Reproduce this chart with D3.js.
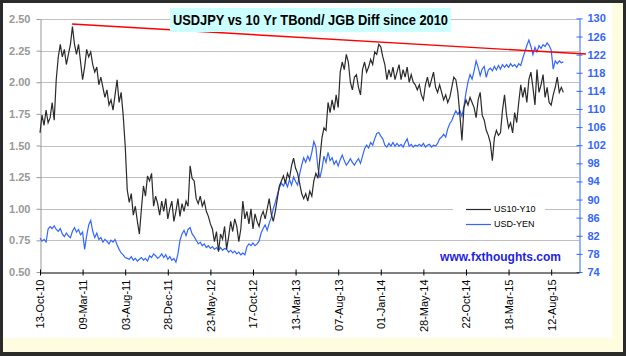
<!DOCTYPE html>
<html><head><meta charset="utf-8">
<script src="https://cdn.jsdelivr.net/npm/d3@7"></script>
<style>
html,body{margin:0;padding:0;background:#2b2b2b;}
svg{display:block;font-family:"Liberation Sans",Arial,sans-serif;}
</style></head>
<body><svg id="chart" width="626" height="356"></svg>
<script>
// ---------------- DATA ----------------
const title = "USDJPY vs 10 Yr TBond/ JGB Diff since 2010";
const startDate = "2010-10-13";
const stepDays = 7; // weekly observations
const seriesNames = ["US10-Y10", "USD-YEN"];
// US10-Y10 spread (left axis, %)
const spreadValues = [
1.60,1.74,1.66,1.78,1.68,1.72,1.84,1.70,2.02,2.20,
2.30,2.20,2.26,2.14,2.22,2.30,2.44,2.30,2.22,2.30,
2.16,2.02,2.12,2.26,2.20,2.24,2.14,2.08,2.12,1.98,
2.04,1.96,1.88,1.94,1.82,1.86,1.78,1.90,2.02,1.84,
1.92,1.74,1.50,1.15,1.05,1.12,0.95,1.02,0.90,0.80,
1.00,1.18,1.10,1.26,1.22,1.28,1.02,1.10,1.04,0.95,
1.06,0.98,1.08,0.92,1.00,1.06,0.90,0.98,1.08,0.94,
1.04,0.98,1.06,1.02,1.34,1.24,1.22,1.08,1.04,1.10,
1.02,1.06,0.98,0.94,0.88,0.84,0.74,0.82,0.66,0.80,
0.76,0.86,0.68,0.78,0.90,0.82,0.92,0.86,0.74,0.84,
1.06,0.92,0.98,0.88,1.00,0.84,0.96,0.90,0.86,0.94,
0.98,0.92,1.00,1.08,0.96,0.90,0.98,1.08,1.18,1.22,
1.26,1.20,1.28,1.24,1.34,1.40,1.32,1.28,1.20,1.12,
1.08,1.12,1.06,1.14,1.10,1.22,1.28,1.24,1.40,1.56,
1.64,1.62,1.84,1.76,1.86,1.78,1.90,1.80,2.08,2.16,
2.10,2.22,2.16,2.00,1.94,2.04,2.06,1.96,1.90,2.10,
2.16,2.08,2.12,2.18,2.14,2.24,2.22,2.30,2.28,2.20,
2.14,2.02,2.10,2.04,2.12,2.02,2.08,2.14,2.02,2.10,
2.04,2.12,2.00,2.06,2.00,1.98,1.94,1.98,1.90,1.86,
1.98,2.04,1.96,2.02,2.08,1.96,1.92,1.98,1.92,1.86,
1.90,1.84,1.88,1.96,2.04,2.02,1.92,1.74,1.54,1.80,
1.86,1.82,1.88,1.84,1.80,1.72,1.86,1.92,1.74,1.70,
1.62,1.58,1.52,1.38,1.56,1.62,1.58,1.60,1.78,1.90,
1.74,1.64,1.68,1.60,1.76,1.68,1.84,1.98,1.88,1.96,
1.84,2.02,2.08,1.96,1.82,2.10,1.92,1.98,2.06,1.88,
1.96,1.84,1.82,1.90,1.96,2.04,1.92,1.96,1.92
];
// USD-YEN (right axis)
const yenValues = [
81.5,80.8,81.2,80.6,83.5,84.0,83.6,84.2,83.4,83.0,
83.6,82.4,81.8,82.6,82.0,81.6,83.0,83.8,82.8,83.4,
82.2,82.8,79.0,82.0,84.4,85.4,83.0,81.6,82.6,81.2,
81.6,80.6,81.2,80.8,80.2,81.0,80.6,81.2,80.0,79.0,
78.2,77.8,77.2,77.0,76.8,77.4,76.6,77.0,76.4,76.8,
77.2,76.6,77.0,76.4,77.6,77.2,78.0,77.6,77.0,77.4,
78.0,77.2,77.8,76.8,77.4,76.6,77.0,76.2,78.0,81.0,
82.4,83.2,82.0,83.4,83.8,82.4,81.8,81.0,80.2,80.6,
79.8,80.2,79.4,79.8,79.2,79.6,79.0,79.4,78.8,79.4,
78.8,79.2,79.0,78.4,78.8,78.2,78.6,78.0,78.4,77.8,
78.2,77.8,79.6,80.2,79.8,80.4,79.8,80.2,80.8,82.6,
83.6,84.4,83.2,84.8,86.0,88.0,89.4,91.0,92.6,93.6,
93.0,94.0,92.8,94.4,93.2,95.0,94.0,93.2,95.6,97.6,
99.2,98.2,99.6,98.6,100.4,102.8,101.6,97.0,94.8,96.8,
99.6,98.2,100.4,98.6,99.2,97.8,98.6,97.4,98.8,99.8,
98.6,97.6,98.2,99.0,98.2,97.6,98.4,99.0,98.0,99.6,
101.2,102.0,101.4,102.6,102.0,103.4,104.6,104.8,104.0,103.4,
102.0,101.6,102.4,101.8,102.6,101.8,102.4,101.8,102.2,101.6,
102.6,103.4,101.8,102.2,101.6,102.0,101.8,102.2,101.8,102.4,
101.6,102.0,102.2,101.6,102.0,101.8,102.4,103.4,103.8,104.4,
103.8,105.6,106.8,107.4,108.6,109.6,108.8,109.6,108.4,110.6,
113.6,116.0,117.6,116.6,118.4,120.6,119.2,117.4,118.8,119.4,
117.0,118.6,119.0,118.4,119.4,118.6,119.6,118.8,119.8,119.2,
119.8,119.2,120.0,119.4,119.8,119.2,120.0,119.6,121.2,122.6,
124.0,125.2,123.8,122.0,123.6,122.6,124.0,123.4,124.2,123.8,
124.6,124.0,123.0,118.8,120.6,120.0,120.6,120.2,120.4
];
// resistance trend line on the spread (left axis)
const trendDates = ["2011-01-31", "2015-12-10"];
const trendValues = [2.46, 2.223];
// axis ticks
const xTickStepDays = 147;
const xTickCount = 13;
const xAxisEndDays = 1860;
const leftTicks = [0.50,0.75,1.00,1.25,1.50,1.75,2.00,2.25,2.50];
const rightTicks = [74,78,82,86,90,94,98,102,106,110,114,118,122,126,130];
const watermark = "www.fxthoughts.com";

// ---------------- CHART ----------------
const parse = d3.timeParse("%Y-%m-%d");
const t0 = parse(startDate);
const dates = spreadValues.map((_, i) => d3.timeDay.offset(t0, i * stepDays));
const xTicks = d3.range(xTickCount).map(k => d3.timeDay.offset(t0, k * xTickStepDays));

const svg = d3.select("#chart");
// frame
svg.append("rect").attr("x",0).attr("y",0).attr("width",626).attr("height",356).attr("fill","#2b2b2b");
svg.append("rect").attr("x",3).attr("y",3).attr("width",620).attr("height",349).attr("fill","#fffde0");
svg.append("rect").attr("x",3).attr("y",3).attr("width",609).attr("height",335).attr("fill","#ffffff");

const L = 40, R = 579, T = 19, B = 272;
const x = d3.scaleTime().domain([t0, d3.timeDay.offset(t0, xAxisEndDays)]).range([L, R]);
const yL = d3.scaleLinear().domain([0.5, 2.5]).range([B, T]);
const yR = d3.scaleLinear().domain([74, 130]).range([B, 18.4]);

// gridlines
svg.append("g").selectAll("line").data(leftTicks.slice(1)).join("line")
  .attr("x1", L).attr("x2", R)
  .attr("y1", d => Math.round(yL(d)) + 0.5).attr("y2", d => Math.round(yL(d)) + 0.5)
  .attr("stroke", "#c0c0c0").attr("stroke-width", 1);

// left axis
const gL = svg.append("g").attr("transform", `translate(${L + 0.5},0)`)
  .call(d3.axisLeft(yL).tickValues(leftTicks).tickFormat(d3.format(".2f")).tickSizeInner(4).tickSizeOuter(0).tickPadding(6));
gL.select(".domain").attr("stroke", "#999");
gL.selectAll(".tick line").attr("stroke", "#999");
gL.selectAll(".tick text").attr("fill", "#999").attr("font-weight", "bold")
  .attr("font-size", 11).attr("font-family", "Liberation Sans, Arial, sans-serif");

// right axis
const gR = svg.append("g").attr("transform", `translate(${R + 0.5},0)`)
  .call(d3.axisRight(yR).tickValues(rightTicks).tickSizeInner(3).tickSizeOuter(0).tickPadding(5));
gR.select(".domain").attr("stroke", "#3366ff");
gR.selectAll(".tick line").attr("stroke", "#3366ff").attr("x1", -3).attr("x2", 3);
gR.selectAll(".tick text").attr("fill", "#3366ff").attr("font-weight", "bold")
  .attr("font-size", 11).attr("font-family", "Liberation Sans, Arial, sans-serif");

// series
const lineL = d3.line().x((d, i) => x(dates[i])).y(d => yL(d));
const lineR = d3.line().x((d, i) => x(dates[i])).y(d => yR(d));
svg.append("path").datum(yenValues).attr("d", lineR)
  .attr("fill", "none").attr("stroke", "#3366ff").attr("stroke-width", 1.2);
svg.append("path").datum(spreadValues).attr("d", lineL)
  .attr("fill", "none").attr("stroke", "#2a2a2a").attr("stroke-width", 1.2);

// trend line
const trend = trendDates.map((d, i) => [x(parse(d)), yL(trendValues[i])]);
svg.append("path").attr("d", d3.line()(trend))
  .attr("fill", "none").attr("stroke", "#ff0000").attr("stroke-width", 1.4);

// bottom axis
const gB = svg.append("g").attr("transform", `translate(0,${B + 0.5})`)
  .call(d3.axisBottom(x).tickValues(xTicks).tickFormat(d3.timeFormat("%d-%b-%y")).tickSizeInner(3).tickSizeOuter(0).tickPadding(0));
gB.select(".domain").attr("stroke", "#000");
gB.selectAll(".tick line").attr("stroke", "#000").attr("y1", -3).attr("y2", 3);
gB.selectAll(".tick text")
  .attr("font-size", 11).attr("font-family", "Liberation Sans, Arial, sans-serif").attr("fill", "#000")
  .attr("text-anchor", "end").attr("transform", "translate(0,7) rotate(-90)")
  .attr("x", 0).attr("y", 0).attr("dy", "0.35em");

// legend
const lg = svg.append("g");
lg.append("rect").attr("x", 453).attr("y", 199).attr("width", 92).attr("height", 34).attr("fill", "#fff");
const legColors = ["#2a2a2a", "#3366ff"];
seriesNames.forEach((n, i) => {
  const yy = 209 + i * 15;
  lg.append("line").attr("x1", 466).attr("x2", 491).attr("y1", yy + 0.5).attr("y2", yy + 0.5)
    .attr("stroke", legColors[i]).attr("stroke-width", 1.2);
  lg.append("text").attr("x", 494).attr("y", yy).attr("dy", "0.35em")
    .attr("font-size", 9).attr("fill", "#000").text(n);
});

// watermark
svg.append("text").attr("x", 500.5).attr("y", 257).attr("dy", "0.35em").attr("text-anchor", "middle")
  .attr("font-size", 12).attr("font-weight", "bold").attr("fill", "#1f1fe0").text(watermark);

// title
svg.append("rect").attr("x", 170).attr("y", 8).attr("width", 281).attr("height", 24).attr("fill", "#ccffff");
svg.append("text").attr("x", 310.5).attr("y", 20).attr("dy", "0.36em").attr("text-anchor", "middle")
  .attr("font-size", 15).attr("font-weight", "bold").attr("fill", "#000")
  .attr("textLength", 275).attr("lengthAdjust", "spacingAndGlyphs").text(title);
</script></body></html>
